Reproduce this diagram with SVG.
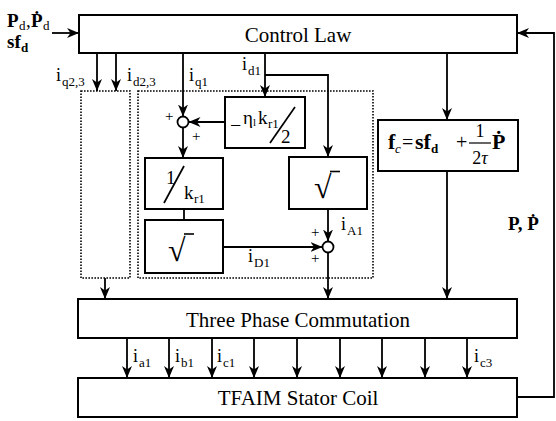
<svg xmlns="http://www.w3.org/2000/svg" width="556" height="421" viewBox="0 0 556 421">
<defs>
<marker id="ah" markerUnits="userSpaceOnUse" markerWidth="13" markerHeight="11" refX="12" refY="5" orient="auto">
<path d="M0,0 L12,5 L0,10 L3.5,5 z" fill="#000"/>
</marker>
<style>
text{font-family:"Liberation Serif","Times New Roman",serif;fill:#000}
.box{fill:#fff;stroke:#000;stroke-width:2}
.dot{fill:none;stroke:#000;stroke-width:1.6;stroke-dasharray:1.6 1.4}
.big{font-size:21px}
.lab{font-size:18px}
.sub{font-size:13px}
.ln{fill:none;stroke:#000;stroke-width:1.8}
.ar{fill:none;stroke:#000;stroke-width:1.8;marker-end:url(#ah)}
.sum{fill:#fff;stroke:#000;stroke-width:1.8}
</style>
</defs>
<rect width="556" height="421" fill="#fff"/>

<g id="inputs">
<text x="7" y="27" font-size="19" font-weight="bold">P</text>
<text x="19" y="30" class="sub">d</text>
<text x="26" y="27" font-size="19">,</text>
<text x="31" y="27" font-size="19" font-weight="bold">Ṗ</text>
<text x="43" y="30" class="sub">d</text>
<text x="7" y="48" font-size="19" font-weight="bold">sf</text>
<text x="21" y="52" font-size="13" font-weight="bold">d</text>
</g>

<g id="control-law">
<rect class="box" x="79" y="15" width="438" height="38"/>
<text class="big" x="298" y="42" text-anchor="middle">Control Law</text>
</g>

<g id="dotted-left"><rect class="dot" x="81" y="91" width="49" height="187"/></g>
<g id="dotted-right"><rect class="dot" x="138" y="91" width="235" height="187"/></g>

<g id="eta-box">
<rect class="box" x="225" y="97" width="80" height="51"/>
<text x="230" y="132" font-size="20">−</text>
<text x="243" y="124" font-size="19">η</text>
<text x="253" y="126" font-size="11">l</text>
<text x="258" y="124" font-size="19">k</text>
<text x="268" y="128" class="sub">r1</text>
<line x1="270" y1="143" x2="295" y2="107" stroke="#000" stroke-width="1.7"/>
<text x="281" y="143" font-size="19">2</text>
</g>

<g id="sum1">
<circle class="sum" cx="183" cy="122" r="5.5"/>
<text x="165" y="121" font-size="15">+</text>
<text x="192" y="141" font-size="15">+</text>
</g>

<g id="inv-k-box">
<rect class="box" x="145" y="158" width="78" height="51"/>
<text x="166" y="184" font-size="19">1</text>
<line x1="164" y1="203" x2="184" y2="166" stroke="#000" stroke-width="1.7"/>
<text x="184" y="199" font-size="19">k</text>
<text x="194" y="203" class="sub">r1</text>
</g>

<g id="sqrt-lower">
<rect class="box" x="145" y="220" width="78" height="53"/>
<text x="168" y="261" font-size="32">√</text>
<line x1="184" y1="234" x2="194" y2="234" stroke="#000" stroke-width="1.6"/>
</g>

<g id="sqrt-upper">
<rect class="box" x="289" y="157" width="78" height="52"/>
<text x="314" y="198" font-size="32">√</text>
<line x1="330" y1="171.5" x2="340" y2="171.5" stroke="#000" stroke-width="1.6"/>
</g>

<g id="sum2">
<circle class="sum" cx="328" cy="247" r="5.5"/>
<text x="311" y="237" font-size="15">+</text>
<text x="311" y="263" font-size="15">+</text>
</g>

<g id="fc-box">
<rect class="box" x="378" y="120" width="140" height="51"/>
<text x="388" y="149" font-size="22" font-weight="bold">f</text>
<text x="395" y="153" font-size="13" font-style="italic">c</text>
<text x="402" y="149" font-size="20">=</text>
<text x="415" y="149" font-size="22" font-weight="bold">sf</text>
<text x="431" y="153" font-size="13" font-weight="bold">d</text>
<text x="456" y="149" font-size="20">+</text>
<text x="480" y="137" font-size="18" text-anchor="middle">1</text>
<line x1="469" y1="143" x2="491" y2="143" stroke="#000" stroke-width="1.2"/>
<text x="480" y="164" font-size="18" text-anchor="middle">2<tspan font-style="italic">τ</tspan></text>
<text x="492" y="149" font-size="22" font-weight="bold">Ṗ</text>
</g>

<g id="three-phase">
<rect class="box" x="78" y="299" width="439" height="39"/>
<text class="big" x="298" y="327" text-anchor="middle">Three Phase Commutation</text>
</g>

<g id="stator">
<rect class="box" x="78" y="378" width="439" height="39"/>
<text class="big" x="298" y="405" text-anchor="middle">TFAIM Stator Coil</text>
</g>

<g id="connectors">
<line class="ar" x1="52" y1="33" x2="79" y2="33"/>
<line class="ar" x1="97" y1="53" x2="97" y2="91"/>
<line class="ar" x1="116" y1="53" x2="116" y2="91"/>
<line class="ar" x1="183" y1="53" x2="183" y2="116.5"/>
<line class="ar" x1="265" y1="53" x2="265" y2="97"/>
<polyline class="ar" points="265,75 328,75 328,157"/>
<line class="ar" x1="225" y1="122" x2="188.5" y2="122"/>
<line class="ar" x1="183" y1="127.5" x2="183" y2="158"/>
<line class="ln" x1="184" y1="209" x2="184" y2="220"/>
<line class="ar" x1="223" y1="247" x2="322.5" y2="247"/>
<line class="ar" x1="328" y1="209" x2="328" y2="241.5"/>
<line class="ar" x1="328" y1="252.5" x2="328" y2="299"/>
<line class="ar" x1="105" y1="278" x2="105" y2="299"/>
<line class="ar" x1="447" y1="53" x2="447" y2="120"/>
<line class="ar" x1="447" y1="171" x2="447" y2="299"/>
<line class="ar" x1="127" y1="338" x2="127" y2="378"/>
<line class="ar" x1="169" y1="338" x2="169" y2="378"/>
<line class="ar" x1="212" y1="338" x2="212" y2="378"/>
<line class="ar" x1="254" y1="338" x2="254" y2="378"/>
<line class="ar" x1="297" y1="338" x2="297" y2="378"/>
<line class="ar" x1="340" y1="338" x2="340" y2="378"/>
<line class="ar" x1="382" y1="338" x2="382" y2="378"/>
<line class="ar" x1="425" y1="338" x2="425" y2="378"/>
<line class="ar" x1="467" y1="338" x2="467" y2="378"/>
<polyline class="ar" stroke-width="1.5" points="517,397 554,397 554,33 517,33"/>
</g>

<g id="labels">
<text x="56" y="81" class="lab">i</text><text x="62" y="86" class="sub">q2,3</text>
<text x="127" y="81" class="lab">i</text><text x="133" y="86" class="sub">d2,3</text>
<text x="189" y="81" class="lab">i</text><text x="195" y="86" class="sub">q1</text>
<text x="242" y="70" class="lab">i</text><text x="248" y="75" class="sub">d1</text>
<text x="341" y="230" class="lab">i</text><text x="347" y="235" class="sub">A1</text>
<text x="248" y="262" class="lab">i</text><text x="254" y="267" class="sub">D1</text>
<text x="133" y="362" class="lab">i</text><text x="139" y="367" class="sub">a1</text>
<text x="175" y="362" class="lab">i</text><text x="181" y="367" class="sub">b1</text>
<text x="217" y="362" class="lab">i</text><text x="223" y="367" class="sub">c1</text>
<text x="474" y="362" class="lab">i</text><text x="480" y="367" class="sub">c3</text>
<text x="508" y="230" font-size="19" font-weight="bold">P, Ṗ</text>
</g>
</svg>
